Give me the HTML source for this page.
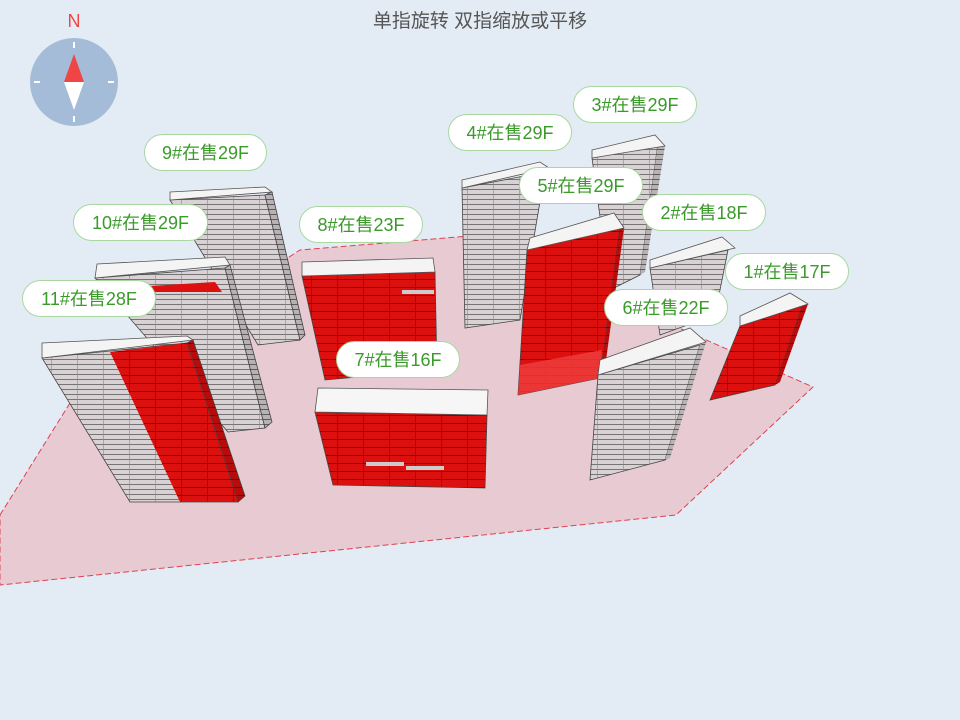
<!DOCTYPE html>
<html><head><meta charset="utf-8"><style>
html,body{margin:0;padding:0;width:960px;height:720px;overflow:hidden;background:#e3ecf5;font-family:"Liberation Sans","Noto Sans CJK SC",sans-serif}
.lb{position:absolute;height:37px;line-height:37px;background:#fff;border:1px solid #a8d8a0;border-radius:19px;color:#3a9a2a;font-size:18px;text-align:center;box-sizing:border-box}
</style></head><body>
<svg width="960" height="720" style="position:absolute;left:0;top:0">
<defs>
<pattern id="g" width="26" height="5" patternUnits="userSpaceOnUse"><rect width="26" height="5" fill="#d9d2d4"/><line x1="0" y1="4.5" x2="26" y2="4.5" stroke="#555" stroke-width="0.8"/><line x1="25.5" y1="0" x2="25.5" y2="5" stroke="#888" stroke-width="0.6"/></pattern>
<pattern id="r" width="26" height="8" patternUnits="userSpaceOnUse"><rect width="26" height="8" fill="#dd1010"/><line x1="0" y1="7.5" x2="26" y2="7.5" stroke="#600" stroke-width="0.8"/><line x1="25.5" y1="0" x2="25.5" y2="8" stroke="#900" stroke-width="0.6"/></pattern>
<pattern id="gs" width="6" height="5" patternUnits="userSpaceOnUse"><rect width="6" height="5" fill="#b9b2b4"/><line x1="0" y1="4.5" x2="6" y2="4.5" stroke="#444" stroke-width="0.8"/></pattern>
<pattern id="rs" width="6" height="8" patternUnits="userSpaceOnUse"><rect width="6" height="8" fill="#b80c0c"/><line x1="0" y1="7.5" x2="6" y2="7.5" stroke="#500" stroke-width="0.8"/></pattern>
</defs>
<polygon points="0,515 75,395 300,250 470,236 813,387 676,515 0,585" fill="#e8cbd2" stroke="#e04050" stroke-width="1" stroke-dasharray="6,3"/>
<!-- 9 -->
<polygon points="170,200 265,195 300,340 258,345" fill="url(#g)" stroke="#444" stroke-width="0.8"/>
<polygon points="265,195 272,192 305,335 300,340" fill="url(#gs)" stroke="#444" stroke-width="0.8"/>
<polygon points="170,192 265,187 272,192 170,200" fill="#f4f4f4" stroke="#555" stroke-width="0.8"/>
<!-- 10 -->
<polygon points="95,278 225,268 265,428 228,432" fill="url(#g)" stroke="#444" stroke-width="0.8"/>
<polygon points="150,286 215,282 222,292 155,292" fill="#dd1010"/>
<polygon points="225,268 230,265 272,422 265,428" fill="url(#gs)" stroke="#444" stroke-width="0.8"/>
<polygon points="97,264 225,257 230,265 95,278" fill="#f4f4f4" stroke="#555" stroke-width="0.8"/>
<!-- 11 -->
<polygon points="42,358 187,343 238,502 130,502" fill="url(#g)" stroke="#444" stroke-width="0.8"/>
<polygon points="110,352 187,343 238,502 180,502" fill="url(#r)"/>
<polygon points="187,343 193,340 245,496 238,502" fill="url(#rs)" stroke="#444" stroke-width="0.8"/>
<polygon points="42,343 187,336 193,340 42,358" fill="#f4f4f4" stroke="#555" stroke-width="0.8"/>
<!-- 8 -->
<polygon points="302,276 435,272 437,370 325,380" fill="url(#r)" stroke="#444" stroke-width="0.8"/>
<polygon points="302,262 433,258 435,272 302,276" fill="#f4f4f4" stroke="#555" stroke-width="0.8"/>
<rect x="402" y="290" width="32" height="4" fill="#ccc"/>
<!-- 7 -->
<polygon points="315,412 487,415 485,488 333,485" fill="url(#r)" stroke="#444" stroke-width="0.8"/>
<polygon points="318,388 488,390 487,415 315,412" fill="#f6f6f6" stroke="#555" stroke-width="0.8"/>
<rect x="366" y="462" width="38" height="4" fill="#ccc"/><rect x="406" y="466" width="38" height="4" fill="#ccc"/>
<!-- 4 -->
<polygon points="462,188 545,172 520,320 465,328" fill="url(#g)" stroke="#444" stroke-width="0.8"/>
<polygon points="462,180 540,162 549,168 462,188" fill="#f4f4f4" stroke="#555" stroke-width="0.8"/>
<!-- 3 -->
<polygon points="592,158 658,143 640,275 610,290" fill="url(#g)" stroke="#444" stroke-width="0.8"/>
<polygon points="658,143 665,146 645,272 640,275" fill="url(#gs)"/>
<polygon points="592,150 655,135 665,146 592,158" fill="#f4f4f4" stroke="#555" stroke-width="0.8"/>
<!-- 2 -->
<polygon points="650,268 728,250 715,315 660,335" fill="url(#g)" stroke="#444" stroke-width="0.8"/>
<polygon points="650,260 722,237 735,248 650,268" fill="#f4f4f4" stroke="#555" stroke-width="0.8"/>
<!-- 5 -->
<polygon points="527,250 620,225 600,378 518,395" fill="url(#r)" stroke="#444" stroke-width="0.8"/>
<polygon points="520,365 602,350 600,378 518,395" fill="#f04040" opacity="0.8"/>
<polygon points="620,225 624,228 604,375 600,378" fill="url(#rs)"/>
<polygon points="530,238 614,213 624,228 527,250" fill="#f4f4f4" stroke="#555" stroke-width="0.8"/>
<!-- 6 -->
<polygon points="598,375 700,345 665,460 590,480" fill="url(#g)" stroke="#444" stroke-width="0.8"/>
<polygon points="700,345 706,342 670,458 665,460" fill="url(#gs)"/>
<polygon points="600,360 690,328 706,342 598,375" fill="#f4f4f4" stroke="#555" stroke-width="0.8"/>
<!-- 1 -->
<polygon points="740,326 802,306 775,385 710,400" fill="url(#r)" stroke="#444" stroke-width="0.8"/>
<polygon points="802,306 808,304 780,382 775,385" fill="url(#rs)"/>
<polygon points="740,316 790,293 808,304 740,326" fill="#f4f4f4" stroke="#555" stroke-width="0.8"/>
<!-- compass -->
<circle cx="74" cy="82" r="44" fill="#a5bcd9"/>
<line x1="74" y1="42" x2="74" y2="48" stroke="#fff" stroke-width="2"/><line x1="74" y1="116" x2="74" y2="122" stroke="#fff" stroke-width="2"/>
<line x1="34" y1="82" x2="40" y2="82" stroke="#fff" stroke-width="2"/><line x1="108" y1="82" x2="114" y2="82" stroke="#fff" stroke-width="2"/>
<polygon points="74,54 84,82 64,82" fill="#f04545"/><polygon points="64,82 84,82 74,110" fill="#fff"/>
<text x="74" y="27" text-anchor="middle" font-size="18" fill="#f04545" font-family="Liberation Sans,sans-serif">N</text>
<text x="480" y="27" text-anchor="middle" font-size="19" fill="#555" font-family="Liberation Sans,Noto Sans CJK SC,sans-serif">单指旋转 双指缩放或平移</text>
</svg>
<div class="lb" style="left:144px;top:134px;width:123px">9#在售29F</div>
<div class="lb" style="left:73px;top:204px;width:135px">10#在售29F</div>
<div class="lb" style="left:22px;top:280px;width:134px">11#在售28F</div>
<div class="lb" style="left:299px;top:206px;width:124px">8#在售23F</div>
<div class="lb" style="left:448px;top:114px;width:124px">4#在售29F</div>
<div class="lb" style="left:573px;top:86px;width:124px">3#在售29F</div>
<div class="lb" style="left:519px;top:167px;width:124px">5#在售29F</div>
<div class="lb" style="left:642px;top:194px;width:124px">2#在售18F</div>
<div class="lb" style="left:725px;top:253px;width:124px">1#在售17F</div>
<div class="lb" style="left:604px;top:289px;width:124px">6#在售22F</div>
<div class="lb" style="left:336px;top:341px;width:124px">7#在售16F</div>
</body></html>
